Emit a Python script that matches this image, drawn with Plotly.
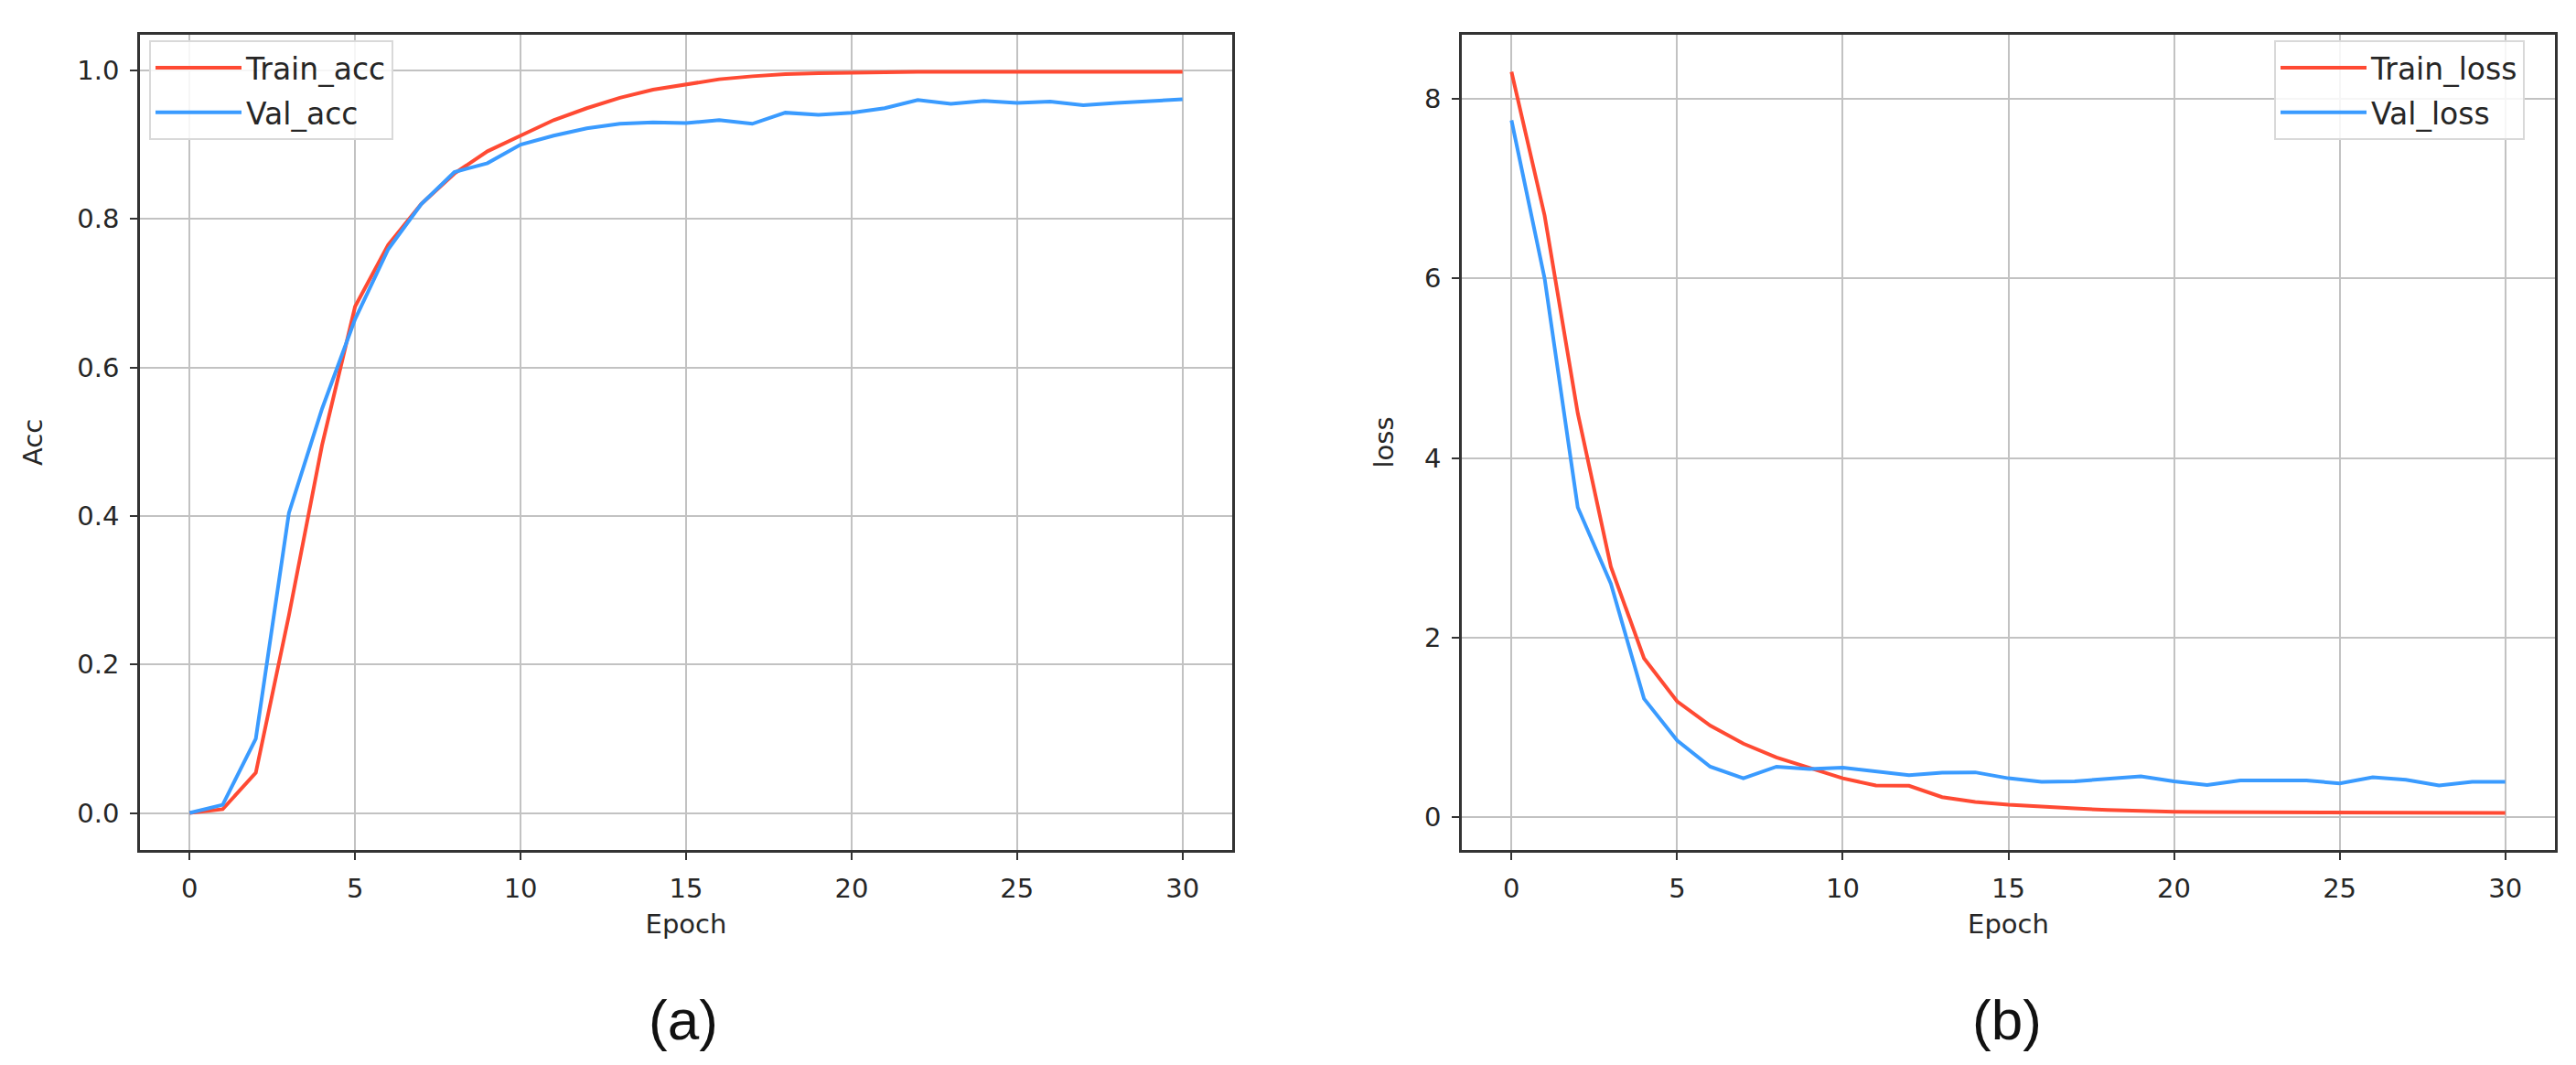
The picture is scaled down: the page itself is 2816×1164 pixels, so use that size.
import plotly.graph_objects as go

epochs = list(range(31))

train_acc = [0.0, 0.005, 0.054, 0.266, 0.495, 0.682, 0.765, 0.820, 0.861, 0.891,
             0.912, 0.933, 0.949, 0.963, 0.974, 0.981, 0.988, 0.992, 0.995, 0.996,
             0.997, 0.997, 0.998, 0.998, 0.998, 0.998, 0.998, 0.998, 0.998, 0.998, 0.998]
val_acc = [0.0, 0.011, 0.100, 0.404, 0.544, 0.665, 0.759, 0.820, 0.863, 0.875,
           0.900, 0.912, 0.922, 0.928, 0.930, 0.929, 0.933, 0.928, 0.943, 0.940,
           0.943, 0.949, 0.960, 0.955, 0.959, 0.956, 0.958, 0.953, 0.956, 0.959, 0.961]

train_loss = [8.30, 6.70, 4.50, 2.79, 1.77, 1.29, 1.02, 0.82, 0.665, 0.547,
              0.434, 0.353, 0.350, 0.224, 0.170, 0.139, 0.115, 0.098, 0.081, 0.068,
              0.060, 0.057, 0.055, 0.054, 0.052, 0.051, 0.050, 0.050, 0.049, 0.048, 0.048]
val_loss = [7.76, 6.00, 3.45, 2.60, 1.32, 0.855, 0.563, 0.434, 0.563, 0.536,
            0.553, 0.512, 0.468, 0.495, 0.500, 0.434, 0.394, 0.400, 0.427, 0.455,
            0.400, 0.360, 0.410, 0.410, 0.410, 0.376, 0.444, 0.417, 0.353, 0.394, 0.394]

acc_ticks = [0.0, 0.2, 0.4, 0.6, 0.8, 1.0]
loss_ticks = [0, 2, 4, 6, 8]
epoch_ticks = [0, 5, 10, 15, 20, 25, 30]

RED = "#FF4A33"
BLUE = "#3A9BFF"
TICK_FONT = dict(family="DejaVu Sans", size=29, color="#262626")
LEGEND_FONT = dict(family="DejaVu Sans", size=33, color="#262626")


def padded(*series):
    lo = min(min(s) for s in series)
    hi = max(max(s) for s in series)
    m = (hi - lo) * 0.05
    return [lo - m, hi + m]


fig = go.Figure()
fig.add_trace(go.Scatter(x=epochs, y=train_acc, mode="lines", name="Train_acc",
                         line=dict(color=RED, width=4), xaxis="x", yaxis="y",
                         legend="legend", legendgroup="a1"))
fig.add_trace(go.Scatter(x=epochs, y=val_acc, mode="lines", name="Val_acc",
                         line=dict(color=BLUE, width=4), xaxis="x", yaxis="y",
                         legend="legend", legendgroup="a2"))
fig.add_trace(go.Scatter(x=epochs, y=train_loss, mode="lines", name="Train_loss",
                         line=dict(color=RED, width=4), xaxis="x2", yaxis="y2",
                         legend="legend2", legendgroup="b1"))
fig.add_trace(go.Scatter(x=epochs, y=val_loss, mode="lines", name="Val_loss",
                         line=dict(color=BLUE, width=4), xaxis="x2", yaxis="y2",
                         legend="legend2", legendgroup="b2"))

W, H = 2816, 1164
ydom = [1 - 921 / H, 1 - 30 / H]

axis_common = dict(
    showline=True, mirror=True, linecolor="#333333", linewidth=2.5,
    showgrid=True, gridcolor="#c2c2c2", gridwidth=2.4,
    zeroline=False, ticks="outside", ticklen=8, tickwidth=2.3, tickcolor="#333333",
    tickfont=TICK_FONT, ticklabelstandoff=6,
)

xr = [-1.5, 31.5]
legend_common = dict(
    xanchor="left", yanchor="top",
    bgcolor="rgba(255,255,255,0.85)", bordercolor="#d9d9d9", borderwidth=2,
    font=LEGEND_FONT, itemwidth=94, tracegroupgap=3,
)
fig.update_layout(
    width=W, height=H,
    margin=dict(l=0, r=0, t=0, b=0),
    paper_bgcolor="white", plot_bgcolor="white",
    showlegend=True,
    xaxis=dict(domain=[145 / W, 1339 / W], range=xr, tickvals=epoch_ticks,
               title=dict(text="Epoch", font=TICK_FONT, standoff=14), anchor="y",
               **axis_common),
    yaxis=dict(domain=ydom, range=padded(train_acc, val_acc), tickvals=acc_ticks,
               tickformat=".1f",
               title=dict(text="Acc", font=TICK_FONT, standoff=30), anchor="x",
               **axis_common),
    xaxis2=dict(domain=[1590 / W, 2785 / W], range=xr, tickvals=epoch_ticks,
                title=dict(text="Epoch", font=TICK_FONT, standoff=14), anchor="y2",
                **axis_common),
    yaxis2=dict(domain=ydom, range=padded(train_loss, val_loss), tickvals=loss_ticks,
                title=dict(text="loss", font=TICK_FONT, standoff=25), anchor="x2",
                **axis_common),
    legend=dict(x=155 / W, y=1 - 36 / H, **legend_common),
    legend2=dict(x=2478 / W, y=1 - 36 / H, **legend_common),
    annotations=[
        dict(text="(a)", x=739 / W, y=1 - 1106 / H, xref="paper", yref="paper",
             showarrow=False, xanchor="center", yanchor="middle",
             font=dict(family="Liberation Sans", size=62, color="#111111")),
        dict(text="(b)", x=2186 / W, y=1 - 1106 / H, xref="paper", yref="paper",
             showarrow=False, xanchor="center", yanchor="middle",
             font=dict(family="Liberation Sans", size=62, color="#111111")),
    ],
)

fig.write_html("out.html")
